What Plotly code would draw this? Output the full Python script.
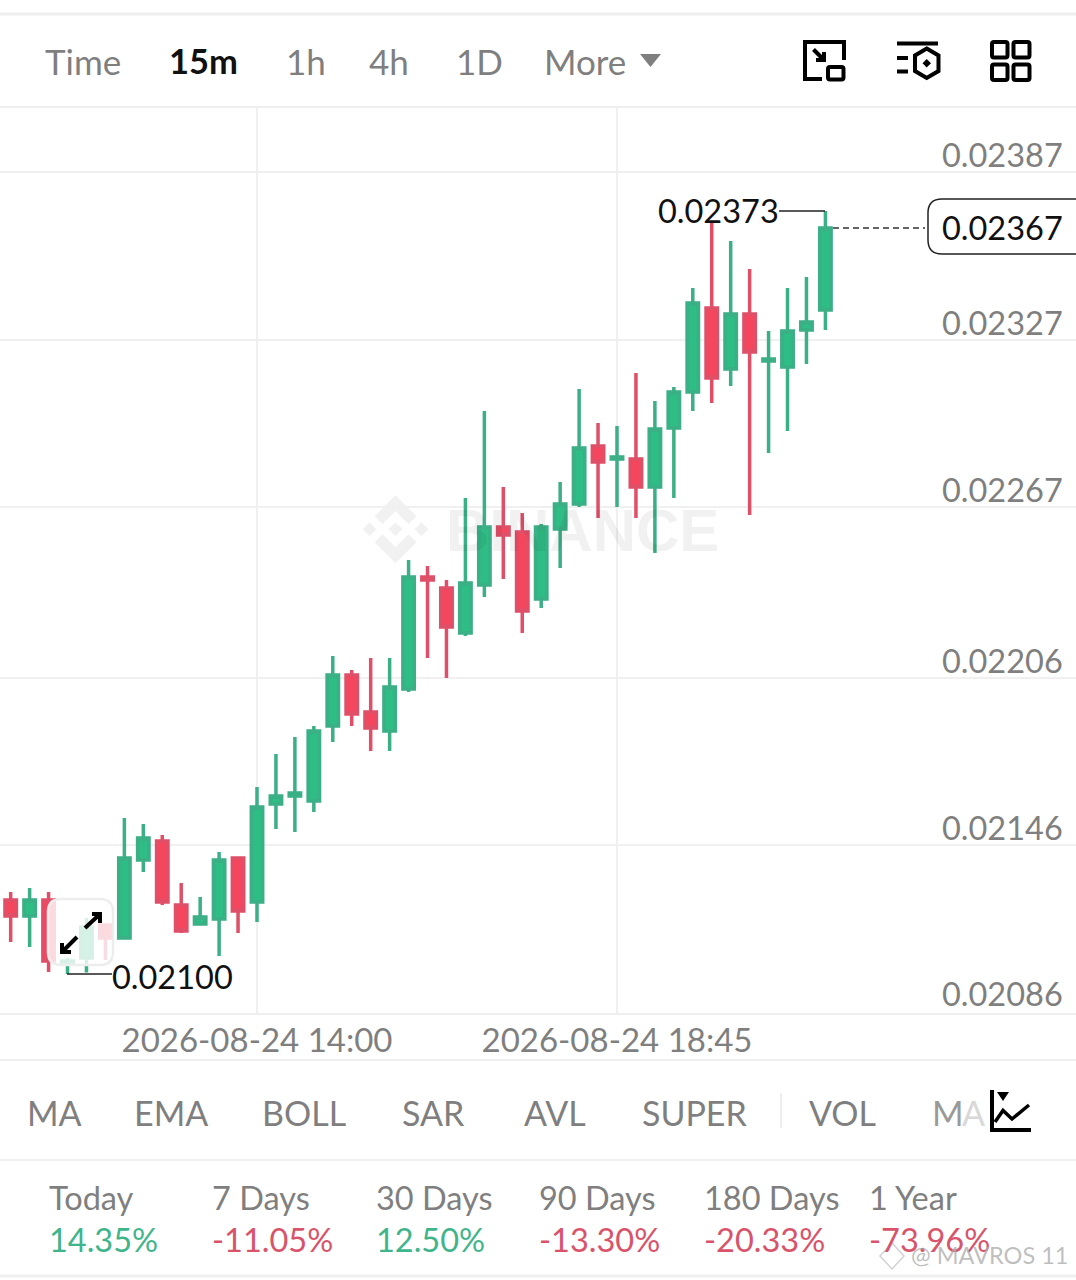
import pandas as pd
import plotly.graph_objects as go

W, H = 1076, 1280
START = "2026-08-24 10:45"
opens = [0.0212645,0.0212072,0.0212645,0.0210390,0.0210569,0.0211750,0.0211285,0.0214076,0.0214756,0.0212466,0.0211786,0.0211965,0.0214148,0.0212573,0.0216081,0.0216367,0.0216188,0.0218872,0.0220698,0.0219373,0.0218693,0.0220197,0.0224205,0.0223811,0.0222201,0.0223919,0.0225995,0.0225816,0.0223418,0.0225923,0.0226818,0.0228894,0.0228428,0.0228428,0.0227426,0.0229538,0.0230826,0.0233833,0.0231649,0.0233618,0.0231936,0.0231721,0.0233045,0.0233761]
highs = [0.0212931,0.0213074,0.0212931,0.0210569,0.0212001,0.0211750,0.0215580,0.0215365,0.0214971,0.0213253,0.0212752,0.0214363,0.0214148,0.0216689,0.0217870,0.0218479,0.0218872,0.0221378,0.0220877,0.0221306,0.0221306,0.0224813,0.0224599,0.0224098,0.0227032,0.0230146,0.0227426,0.0226496,0.0226102,0.0227605,0.0230934,0.0229717,0.0229609,0.0231506,0.0230504,0.0231005,0.0234548,0.0236875,0.0236230,0.0235228,0.0233009,0.0234548,0.0234942,0.0237300]
lows = [0.0211142,0.0210963,0.0210068,0.0210000,0.0210050,0.0210497,0.0211285,0.0213647,0.0212466,0.0211464,0.0211786,0.0210641,0.0211464,0.0211857,0.0215186,0.0215079,0.0215794,0.0218300,0.0218872,0.0217978,0.0217978,0.0220089,0.0221306,0.0220590,0.0222093,0.0223489,0.0224133,0.0222201,0.0223096,0.0224527,0.0226710,0.0226317,0.0226710,0.0226317,0.0225064,0.0227032,0.0230146,0.0230433,0.0231041,0.0226424,0.0228643,0.0229430,0.0231828,0.0233045]
closes = [0.0212072,0.0212645,0.0210462,0.0210462,0.0211679,0.0211285,0.0214148,0.0214864,0.0212573,0.0211535,0.0212036,0.0214076,0.0212251,0.0215973,0.0216367,0.0216474,0.0218693,0.0220698,0.0219302,0.0218801,0.0220268,0.0224205,0.0224098,0.0222416,0.0223990,0.0225995,0.0225708,0.0222988,0.0225995,0.0226818,0.0228822,0.0228321,0.0228500,0.0227426,0.0229502,0.0230826,0.0234012,0.0231327,0.0233618,0.0232258,0.0232007,0.0233009,0.0233331,0.0236700]
times = pd.date_range(START, periods=len(opens), freq="15min")

y_ticks = [0.02387, 0.02327, 0.02267, 0.02206, 0.02146, 0.02086]
y_labels = ["0.02387", "0.02327", "0.02267", "0.02206", "0.02146", "0.02086"]
x_ticks = ["2026-08-24 14:00", "2026-08-24 18:45"]
x_labels = ["2026-08-24 14:00", "2026-08-24 18:45"]
HIGH_LABEL, LOW_LABEL, LAST_LABEL = "0.02373", "0.02100", "0.02367"
tabs = [("Time", 46), ("15m", 170), ("1h", 287), ("4h", 370), ("1D", 457), ("More", 545)]
indicators = [("MA", 28), ("EMA", 135), ("BOLL", 263), ("SAR", 403), ("AVL", 525), ("SUPER", 643), ("VOL", 810)]
periods = ["Today", "7 Days", "30 Days", "90 Days", "180 Days", "1 Year"]
changes = ["14.35%", "-11.05%", "12.50%", "-13.30%", "-20.33%", "-73.96%"]
stat_x = [50, 213, 377, 540, 705, 870]

GREEN, RED = "#2EBD85", "#F6465D"
GREEN_L, RED_L = "#3BAF85", "#E04F68"
GRID = "#F0F0F0"
GRAY = "#7F7F7F"
FONT = "Lato"

def X(x): return x / W
def Y(y): return 1 - y / H
def P(pts, close=True):
    s = "M " + " L ".join(f"{X(a):.5f},{Y(b):.5f}" for a, b in pts)
    return s + (" Z" if close else "")
def RR(x0, y0, x1, y1, r):
    q = lambda a, b: f"{X(a):.5f},{Y(b):.5f}"
    return (f"M {q(x0+r,y0)} L {q(x1-r,y0)} Q {q(x1,y0)} {q(x1,y0+r)} L {q(x1,y1-r)} Q {q(x1,y1)} {q(x1-r,y1)} "
            f"L {q(x0+r,y1)} Q {q(x0,y1)} {q(x0,y1-r)} L {q(x0,y0+r)} Q {q(x0,y0)} {q(x0+r,y0)} Z")

shapes, annos = [], []
def path(d, fill=None, color="#000", width=4, layer="above", opacity=1):
    shapes.append(dict(type="path", xref="paper", yref="paper", path=d, layer=layer, opacity=opacity,
                       fillcolor=fill if fill else "rgba(0,0,0,0)",
                       line=dict(color=color if width else "rgba(0,0,0,0)", width=width)))
def hline(y, color=GRID, width=2, x0=0, x1=W):
    shapes.append(dict(type="line", xref="paper", yref="paper", x0=X(x0), x1=X(x1), y0=Y(y), y1=Y(y),
                       layer="below", line=dict(color=color, width=width)))
def text(x, y, s, color=GRAY, size=32, anchor="left", weight=400, family=FONT):
    dx = -2 if anchor == "left" else 0
    annos.append(dict(xref="paper", yref="paper", x=X(x + dx), y=Y(y), text=s, showarrow=False, xanchor=anchor,
                      yanchor="middle", borderpad=0, font=dict(color=color, size=size, family=family, weight=weight)))

for yy, w in [(14, 3), (107, 2), (1060, 2), (1160, 2), (1276, 3)]:
    hline(yy, "#EFEFEF", w)

# y axis price labels sit just above their gridlines
for v, s in zip(y_ticks, y_labels):
    annos.append(dict(xref="paper", yref="y", x=X(1064), y=v, yshift=20 if v == y_ticks[-1] else 17.5, text=s,
                      showarrow=False, xanchor="right", yanchor="middle", borderpad=0,
                      font=dict(color=GRAY, size=32.5, family=FONT)))

# toolbar
for (s, x) in tabs:
    bold = s == "15m"
    text(x, 61, s, "#111111" if bold else GRAY, 34.5 if bold else 35, weight=700 if bold else 400)
path(P([(640, 54), (661, 54), (650.5, 67)]), fill=GRAY, width=0)
path(P([(822, 79), (805, 79), (805, 42), (844, 42), (844, 60)], False), width=4)
path(RR(828, 67, 843.5, 79.5, 2))
path(P([(813.5, 49.5), (824, 60)], False))
path(P([(816, 60), (824, 60), (824, 52)], False))
path(P([(897, 43.5), (938, 43.5)], False))
path(P([(897, 58), (908, 58)], False))
path(P([(897, 71.5), (908, 71.5)], False))
path(P([(926.7, 48.5), (938.5, 55.5), (938.5, 71), (926.7, 78), (915, 71), (915, 55.5)]))
path(P([(926.7, 59), (931, 63.3), (926.7, 67.5), (922.5, 63.3)]), fill="#000", width=0)
for x0, x1 in [(992, 1007.5), (1013.5, 1029.5)]:
    for y0, y1 in [(42, 57.5), (64.5, 80)]:
        path(RR(x0, y0, x1, y1, 2))

# watermark
WM = "rgba(0,0,0,0.055)"
cx, cy = 395.5, 529.3
path(P([(cx, cy - 34), (cx + 21, cy - 13), (cx + 13, cy - 5), (cx, cy - 18), (cx - 13, cy - 5), (cx - 21, cy - 13)]), fill=WM, width=0, layer="below")
path(P([(cx, cy + 34), (cx + 21, cy + 13), (cx + 13, cy + 5), (cx, cy + 18), (cx - 13, cy + 5), (cx - 21, cy + 13)]), fill=WM, width=0, layer="below")
for dx in (-26, 0, 26):
    path(P([(cx + dx, cy - 7), (cx + dx + 7, cy), (cx + dx, cy + 7), (cx + dx - 7, cy)]), fill=WM, width=0, layer="below")
text(447, 530, "BINANCE", WM, 60, weight=700, family="Liberation Sans")

# annotations with leader lines
shapes.append(dict(type="line", xref="paper", yref="y", x0=X(779), x1=X(825), y0=max(highs), y1=max(highs),
                   line=dict(color="#222", width=1.5)))
shapes.append(dict(type="line", xref="paper", yref="y", x0=X(67), x1=X(112), y0=min(lows), y1=min(lows),
                   line=dict(color="#222", width=1.5)))
shapes.append(dict(type="line", xref="paper", yref="y", x0=X(833), x1=X(925), y0=closes[-1], y1=closes[-1],
                   line=dict(color="#333", width=1.5, dash="6px,4px")))
path(RR(928, 199, 1090, 254, 14), fill="#FFFFFF", color="#222", width=1.5)
text(1064, 227.5, LAST_LABEL, "#111", 32.5, anchor="right")
text(780, 210, HIGH_LABEL, "#111", 32.5, anchor="right")
text(113, 976.5, LOW_LABEL, "#111", 32.5)

# expand button over the chart
path(RR(48, 899, 113, 965, 13), fill="rgba(255,255,255,0.8)", color="#EDEDED", width=2.5)
path(P([(85, 928), (100, 914)], False))
path(P([(92, 914), (100, 914), (100, 923)], False))
path(P([(77, 937), (62, 952)], False))
path(P([(62, 943), (62, 952), (71, 952)], False))

# indicators
for s, x in indicators:
    text(x, 1112, s, GRAY, 34)
text(933, 1112, "M", "#9A9A9A", 34)
text(963, 1112, "A", "#D8D8D8", 34)
shapes.append(dict(type="line", xref="paper", yref="paper", x0=X(781), x1=X(781), y0=Y(1093), y1=Y(1128),
                   line=dict(color="#EEEEEE", width=2)))
path(P([(992, 1090), (992, 1130), (1031, 1130)], False))
path(P([(997, 1092), (1009, 1092), (1003, 1101)]), fill="#000", width=0)
path(P([(995, 1122), (1003, 1110.5), (1012, 1119), (1029, 1105)], False), width=3.5)

# stats
for s, c, x in zip(periods, changes, stat_x):
    text(x, 1197, s, GRAY, 32.5)
    text(x, 1239, c, "#3FB58B" if not c.startswith("-") else "#D9536B", 32.5)

# corner credit
text(912, 1255, "@ MAVROS 11", "rgba(170,170,170,0.75)", 23.5)
path(P([(892, 1243), (904, 1256), (892, 1269), (880, 1256)]), color="rgba(190,190,190,0.7)", width=1.5)

fig = go.Figure(go.Candlestick(
    x=times, open=opens, high=highs, low=lows, close=closes,
    increasing=dict(line=dict(color=GREEN_L, width=3.5), fillcolor=GREEN),
    decreasing=dict(line=dict(color=RED_L, width=3.5), fillcolor=RED),
    whiskerwidth=0, hoverinfo="skip", showlegend=False))

t0 = pd.Timestamp("2026-08-24 14:00")
per_px = pd.Timedelta(minutes=285) / 360
unit = (0.02387 - 0.02086) / (1013 - 172)
fig.update_layout(
    width=W, height=H, margin=dict(l=0, r=0, t=0, b=0), paper_bgcolor="white", plot_bgcolor="white",
    font=dict(family=FONT, color=GRAY), boxgap=0.14, shapes=shapes, annotations=annos, showlegend=False,
    xaxis=dict(domain=[0, 1], range=[t0 - 257 * per_px, t0 + (W - 257) * per_px], type="date",
               tickmode="array", tickvals=x_ticks, ticktext=x_labels, tickfont=dict(size=33, color=GRAY, family=FONT),
               showgrid=True, gridcolor=GRID, gridwidth=2, showline=True, linecolor="#EFEFEF", linewidth=2,
               ticks="", zeroline=False, rangeslider=dict(visible=False), ticklabelstandoff=-3),
    yaxis=dict(domain=[Y(1013), Y(107)], range=[0.02086, 0.02387 + 65 * unit], side="right",
               tickmode="array", tickvals=y_ticks, showticklabels=False, showgrid=True, gridcolor=GRID, gridwidth=2,
               ticks="", zeroline=False, showline=False),
)
fig.write_html("out.html", config=dict(displayModeBar=False),
               post_script="document.body.style.margin='0';document.body.style.overflow='hidden';")
